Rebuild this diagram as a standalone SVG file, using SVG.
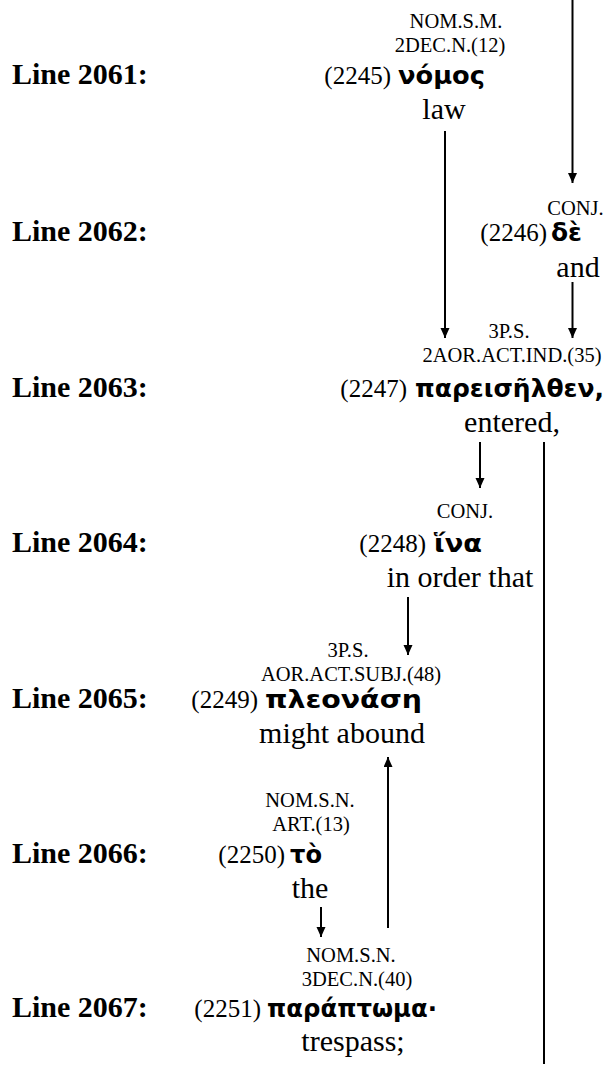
<svg xmlns="http://www.w3.org/2000/svg" width="610" height="1068" viewBox="0 0 610 1068">
<style>
.lbl{font-family:"Liberation Serif","Times New Roman",serif;font-weight:bold;font-size:30px;fill:#000}
.tag{font-family:"Liberation Serif","Times New Roman",serif;font-size:20.5px;fill:#000;text-anchor:middle}
.num{font-family:"Liberation Serif","Times New Roman",serif;font-size:25px;fill:#000;text-anchor:end}
.gk{font-family:"DejaVu Sans","Noto Sans",sans-serif;font-weight:bold;font-size:25px;fill:#000}
.en{font-family:"Liberation Serif","Times New Roman",serif;font-size:30px;fill:#000;text-anchor:middle}
.c{stroke:#000;stroke-width:2;fill:none}
</style>
<defs>
<marker id="ah" markerUnits="userSpaceOnUse" markerWidth="10" markerHeight="10" refX="10" refY="4.5" orient="auto">
<path d="M0,0 L10,4.5 L0,9 z" fill="#000"/>
</marker>
</defs>
<rect width="610" height="1068" fill="#fff"/>
<g id="line-labels">
<text class="lbl" x="12" y="84">Line 2061:</text>
<text class="lbl" x="12" y="241">Line 2062:</text>
<text class="lbl" x="12" y="397">Line 2063:</text>
<text class="lbl" x="12" y="552">Line 2064:</text>
<text class="lbl" x="12" y="708">Line 2065:</text>
<text class="lbl" x="12" y="863">Line 2066:</text>
<text class="lbl" x="12" y="1017">Line 2067:</text>
</g>
<g id="connectors">
<line class="c" x1="572.5" y1="0" x2="572.5" y2="183" marker-end="url(#ah)"/>
<line class="c" x1="445" y1="131" x2="445" y2="338" marker-end="url(#ah)"/>
<line class="c" x1="572.5" y1="282" x2="572.5" y2="338" marker-end="url(#ah)"/>
<line class="c" x1="480" y1="442" x2="480" y2="488" marker-end="url(#ah)"/>
<line class="c" x1="544" y1="442" x2="544" y2="1064"/>
<line class="c" x1="408" y1="597" x2="408" y2="655" marker-end="url(#ah)"/>
<line class="c" x1="321" y1="907" x2="321" y2="937" marker-end="url(#ah)"/>
<line class="c" x1="388" y1="928" x2="388" y2="757" marker-end="url(#ah)"/>
</g>
<g id="n2245">
<text class="tag" x="456" y="28">NOM.S.M.</text>
<text class="tag" x="450" y="52">2DEC.N.(12)</text>
<text class="num" x="391" y="84">(2245)</text>
<text class="gk" x="398" y="84" textLength="87" lengthAdjust="spacingAndGlyphs">νόμος</text>
<text class="en" x="444" y="119">law</text>
</g>
<g id="n2246">
<text class="tag" x="575.5" y="215">CONJ.</text>
<text class="num" x="547" y="241">(2246)</text>
<text class="gk" x="551" y="241" textLength="31" lengthAdjust="spacingAndGlyphs">δὲ</text>
<text class="en" x="578" y="277">and</text>
</g>
<g id="n2247">
<text class="tag" x="509" y="338">3P.S.</text>
<text class="tag" x="512" y="362">2AOR.ACT.IND.(35)</text>
<text class="num" x="407" y="397">(2247)</text>
<text class="gk" x="415" y="397" textLength="189" lengthAdjust="spacingAndGlyphs">παρεισῆλθεν,</text>
<text class="en" x="512" y="432">entered,</text>
</g>
<g id="n2248">
<text class="tag" x="465" y="518">CONJ.</text>
<text class="num" x="426" y="552">(2248)</text>
<text class="gk" x="434" y="552" textLength="48" lengthAdjust="spacingAndGlyphs">ἵνα</text>
<text class="en" x="460" y="587">in order that</text>
</g>
<g id="n2249">
<text class="tag" x="348" y="657">3P.S.</text>
<text class="tag" x="351" y="681">AOR.ACT.SUBJ.(48)</text>
<text class="num" x="258" y="708">(2249)</text>
<text class="gk" x="265" y="708" textLength="157" lengthAdjust="spacingAndGlyphs">πλεονάση</text>
<text class="en" x="342" y="743">might abound</text>
</g>
<g id="n2250">
<text class="tag" x="310" y="807">NOM.S.N.</text>
<text class="tag" x="311" y="831">ART.(13)</text>
<text class="num" x="285" y="863">(2250)</text>
<text class="gk" x="290" y="863" textLength="32" lengthAdjust="spacingAndGlyphs">τὸ</text>
<text class="en" x="310" y="898">the</text>
</g>
<g id="n2251">
<text class="tag" x="351" y="962">NOM.S.N.</text>
<text class="tag" x="357" y="986">3DEC.N.(40)</text>
<text class="num" x="261" y="1017">(2251)</text>
<text class="gk" x="267" y="1017" textLength="170" lengthAdjust="spacingAndGlyphs">παράπτωμα·</text>
<text class="en" x="353" y="1051">trespass;</text>
</g>
</svg>
